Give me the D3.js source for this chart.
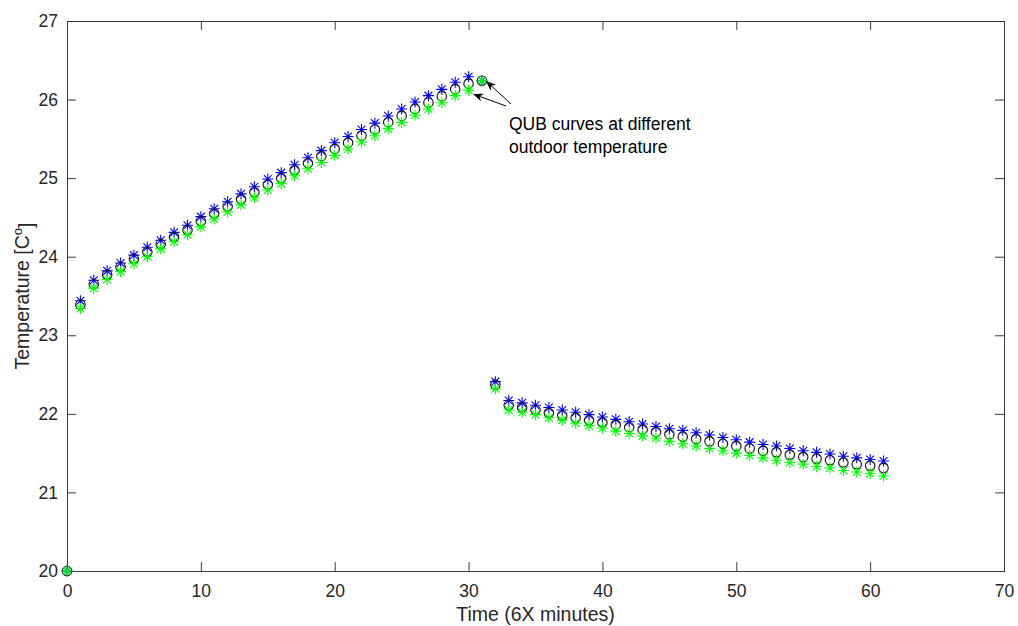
<!DOCTYPE html>
<html>
<head>
<meta charset="utf-8">
<script src="https://cdn.jsdelivr.net/npm/d3@7"></script>
<style>
  html, body { margin: 0; padding: 0; background: #fff; }
  svg { display: block; }
  text { font-family: "Liberation Sans", Arial, Helvetica, sans-serif; }
</style>
</head>
<body>
<svg id="chart" width="1018" height="626"></svg>
<script>
// ---- data ----
const timeSteps = d3.range(0, 62);
const blueSeries = [20.00,23.44,23.70,23.82,23.92,24.02,24.12,24.21,24.31,24.40,24.51,24.61,24.70,24.80,24.89,24.99,25.07,25.17,25.26,25.35,25.45,25.53,25.62,25.70,25.79,25.88,25.97,26.05,26.13,26.22,26.29,26.24,22.41,22.17,22.14,22.11,22.08,22.05,22.02,21.99,21.96,21.93,21.90,21.87,21.84,21.81,21.79,21.76,21.73,21.70,21.67,21.64,21.61,21.59,21.56,21.53,21.51,21.49,21.46,21.44,21.42,21.40];
const blackSeries = [20.00,23.39,23.65,23.77,23.87,23.97,24.06,24.16,24.25,24.34,24.45,24.55,24.64,24.73,24.82,24.92,25.00,25.10,25.19,25.28,25.37,25.45,25.54,25.62,25.71,25.79,25.88,25.96,26.04,26.13,26.20,26.24,22.37,22.11,22.08,22.05,22.01,21.98,21.95,21.92,21.89,21.86,21.83,21.80,21.77,21.74,21.71,21.68,21.65,21.62,21.59,21.56,21.53,21.51,21.48,21.45,21.43,21.41,21.38,21.36,21.34,21.31];
const greenSeries = [20.00,23.34,23.60,23.71,23.81,23.91,24.00,24.10,24.19,24.28,24.38,24.48,24.57,24.66,24.75,24.85,24.93,25.03,25.12,25.20,25.29,25.37,25.46,25.54,25.63,25.71,25.80,25.88,25.96,26.05,26.12,26.24,22.32,22.05,22.02,21.99,21.95,21.92,21.88,21.85,21.82,21.78,21.75,21.72,21.69,21.65,21.62,21.59,21.56,21.53,21.50,21.47,21.44,21.41,21.38,21.36,21.33,21.31,21.28,21.26,21.24,21.21];
const xTicks = [0, 10, 20, 30, 40, 50, 60, 70];
const yTicks = [20, 21, 22, 23, 24, 25, 26, 27];
const xLabel = "Time (6X minutes)";
const yLabelMain = "Temperature [C";
const yLabelSup = "o";
const annotationLines = ["QUB curves at different", "outdoor temperature"];

// ---- layout ----
const W = 1018, H = 626;
const L = 67, R = 1004, T = 21, B = 571;
const axisColor = "#3a3a3a";
const textColor = "#262626";
const tickFont = 17.5;

const svg = d3.select("#chart");
svg.append("rect").attr("width", W).attr("height", H).attr("fill", "#fff");

const x = d3.scaleLinear().domain([0, 70]).range([L, R]);
const y = d3.scaleLinear().domain([20, 27]).range([B, T]);

function styleAxis(g, showLabels) {
  g.select(".domain").remove();
  g.selectAll(".tick line").attr("stroke", axisColor).attr("stroke-width", 1);
  g.selectAll(".tick text")
    .attr("fill", textColor)
    .style("font-size", tickFont + "px");
  if (!showLabels) g.selectAll(".tick text").remove();
}

// bottom axis
svg.append("g").attr("transform", `translate(0,${B})`)
  .call(d3.axisBottom(x).tickValues(xTicks).tickFormat(d3.format("d"))
    .tickSizeInner(-9).tickSizeOuter(0).tickPadding(14))
  .call(g => styleAxis(g, true));
// top axis
svg.append("g").attr("transform", `translate(0,${T})`)
  .call(d3.axisTop(x).tickValues(xTicks).tickSizeInner(-9).tickSizeOuter(0))
  .call(g => styleAxis(g, false));
// left axis
svg.append("g").attr("transform", `translate(${L},0)`)
  .call(d3.axisLeft(y).tickValues(yTicks).tickFormat(d3.format("d"))
    .tickSizeInner(-9).tickSizeOuter(0).tickPadding(9))
  .call(g => styleAxis(g, true));
// right axis
svg.append("g").attr("transform", `translate(${R},0)`)
  .call(d3.axisRight(y).tickValues(yTicks).tickSizeInner(-9).tickSizeOuter(0))
  .call(g => styleAxis(g, false));

// box
svg.append("rect")
  .attr("x", L + 0.5).attr("y", T + 0.5)
  .attr("width", R - L).attr("height", B - T)
  .attr("fill", "none").attr("stroke", axisColor).attr("stroke-width", 1);

// ---- markers ----
function starPath(r) {
  const d = r * Math.SQRT1_2;
  return `M${-r},0L${r},0M0,${-r}L0,${r}M${-d},${-d}L${d},${d}M${-d},${d}L${d},${-d}`;
}

const marks = svg.append("g");

function drawStars(values, color) {
  marks.append("g").selectAll("path")
    .data(timeSteps.map((t, i) => ({ t, v: values[i] })))
    .join("path")
    .attr("transform", d => `translate(${x(d.t)},${y(d.v)})`)
    .attr("d", starPath(5.5))
    .attr("fill", "none")
    .attr("stroke", color)
    .attr("stroke-width", 1.1);
}

drawStars(blueSeries, "#0000ff");
marks.append("g").selectAll("circle")
  .data(timeSteps.map((t, i) => ({ t, v: blackSeries[i] })))
  .join("circle")
  .attr("cx", d => x(d.t))
  .attr("cy", d => y(d.v))
  .attr("r", 4.7)
  .attr("fill", "none")
  .attr("stroke", "#1a1a1a")
  .attr("stroke-width", 1.2);
drawStars(greenSeries, "#00ff00");

// ---- axis labels ----
svg.append("text")
  .attr("x", (L + R) / 2).attr("y", 621)
  .attr("text-anchor", "middle")
  .attr("fill", textColor)
  .style("font-size", "19.5px")
  .text(xLabel);

const yl = svg.append("text")
  .attr("transform", `translate(29,${(T + B) / 2}) rotate(-90)`)
  .attr("text-anchor", "middle")
  .attr("fill", textColor)
  .style("font-size", "19.5px");
yl.append("tspan").text(yLabelMain);
yl.append("tspan").attr("dy", "-0.55em").style("font-size", "13px").text(yLabelSup);
yl.append("tspan").attr("dy", "0.55em").text("]");

// ---- annotation ----
const ann = svg.append("g");
ann.selectAll("text")
  .data(annotationLines)
  .join("text")
  .attr("x", 509)
  .attr("y", (d, i) => 130 + i * 23)
  .attr("fill", "#000")
  .style("font-size", "17.5px")
  .text(d => d);

function arrow(x1, y1, x2, y2) {
  const ang = Math.atan2(y2 - y1, x2 - x1);
  const len = 10, wid = 4;
  const bx = x2 - len * Math.cos(ang), by = y2 - len * Math.sin(ang);
  const back = x2 - len * 0.7 * Math.cos(ang), backy = y2 - len * 0.7 * Math.sin(ang);
  const px = -Math.sin(ang) * wid, py = Math.cos(ang) * wid;
  ann.append("line")
    .attr("x1", x1).attr("y1", y1).attr("x2", back).attr("y2", backy)
    .attr("stroke", "#000").attr("stroke-width", 1);
  ann.append("path")
    .attr("d", `M${x2},${y2}L${bx + px},${by + py}L${back},${backy}L${bx - px},${by - py}Z`)
    .attr("fill", "#000");
}
arrow(511, 104, 486, 81);
arrow(506, 106, 473, 94);
</script>
</body>
</html>
